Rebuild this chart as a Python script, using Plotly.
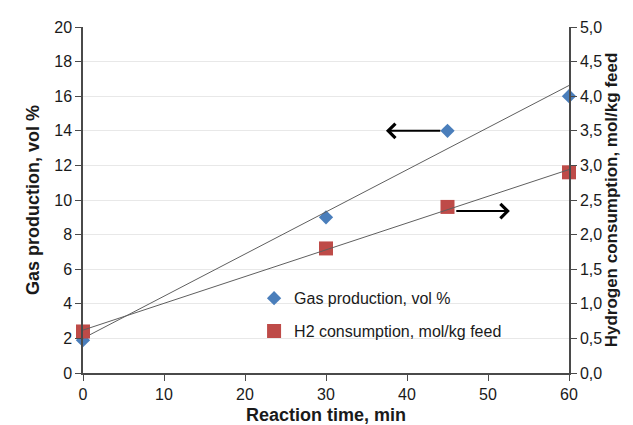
import numpy as np
import plotly.graph_objects as go

time_min = [0, 30, 45, 60]
gas_production = [1.9, 9.0, 14.0, 16.0]
h2_consumption = [0.6, 1.8, 2.4, 2.9]

x_ticks = [0, 10, 20, 30, 40, 50, 60]

font_family = "Liberation Sans, Arial, sans-serif"
txt = "#1a1a1a"

fig = go.Figure()

fig.add_trace(go.Scatter(
    x=time_min, y=gas_production, mode="markers", name="Gas production, vol %",
    marker=dict(symbol="diamond", size=11, color="#4a7ebb"),
    cliponaxis=False, legendgroup="g1", yaxis="y"))
fig.add_trace(go.Scatter(
    x=time_min, y=h2_consumption, mode="markers", name="H2 consumption, mol/kg feed",
    marker=dict(symbol="square", size=14, color="#be4b48"),
    cliponaxis=False, legendgroup="g2", yaxis="y2"))

# linear trend lines (least squares)
xfit = np.array([0, 60])
p1 = np.polyfit(time_min, gas_production, 1)
p2 = np.polyfit(time_min, h2_consumption, 1)
fig.add_trace(go.Scatter(x=xfit, y=np.polyval(p1, xfit), mode="lines",
                         line=dict(color="#5f5f5f", width=1), showlegend=False,
                         cliponaxis=False, hoverinfo="skip", yaxis="y"))
fig.add_trace(go.Scatter(x=xfit, y=np.polyval(p2, xfit), mode="lines",
                         line=dict(color="#5f5f5f", width=1), showlegend=False,
                         cliponaxis=False, hoverinfo="skip", yaxis="y2"))

axis_common = dict(showline=True, linecolor="#4a4a4a", linewidth=1.5,
                   ticks="outside", ticklen=6, tickcolor="#4a4a4a",
                   tickfont=dict(family=font_family, size=16, color=txt),
                   zeroline=False, automargin=False)

title_font = dict(family=font_family, size=18, color=txt)

fig.update_layout(
    width=633, height=425,
    margin=dict(l=75, r=72, t=19, b=60),
    paper_bgcolor="white", plot_bgcolor="white",
    separators=", ",
    showlegend=True,
    legend=dict(x=0.352, y=0.265, xanchor="left", yanchor="top",
                bgcolor="rgba(0,0,0,0)", tracegroupgap=9,
                font=dict(family=font_family, size=16, color=txt)),
    xaxis=dict(range=[0, 60], tickvals=x_ticks, showgrid=False,
               title=dict(text="<b>Reaction time, min</b>", standoff=6, font=title_font),
               **axis_common),
    yaxis=dict(range=[0, 20], dtick=2, showgrid=True, gridcolor="#e8e8e8", gridwidth=1,
               title=dict(text="<b>Gas production, vol %</b>", standoff=10, font=title_font),
               **axis_common),
    yaxis2=dict(range=[0, 5], dtick=0.5, tickformat=".1f", overlaying="y", side="right",
                showgrid=False,
                title=dict(text="<b>Hydrogen consumption, mol/kg feed</b>", standoff=3,
                           font=dict(family=font_family, size=17, color=txt)),
                **axis_common),
)

fig.add_annotation(x=37.4, y=14, ax=44.3, ay=14, xref="x", yref="y", axref="x", ayref="y",
                   showarrow=True, arrowhead=4, arrowsize=1.4, arrowwidth=2,
                   arrowcolor="black", text="")
fig.add_annotation(x=52.7, y=2.34, ax=45.9, ay=2.34, xref="x", yref="y2", axref="x", ayref="y2",
                   showarrow=True, arrowhead=4, arrowsize=1.4, arrowwidth=2,
                   arrowcolor="black", text="")

fig.write_html("out.html")
